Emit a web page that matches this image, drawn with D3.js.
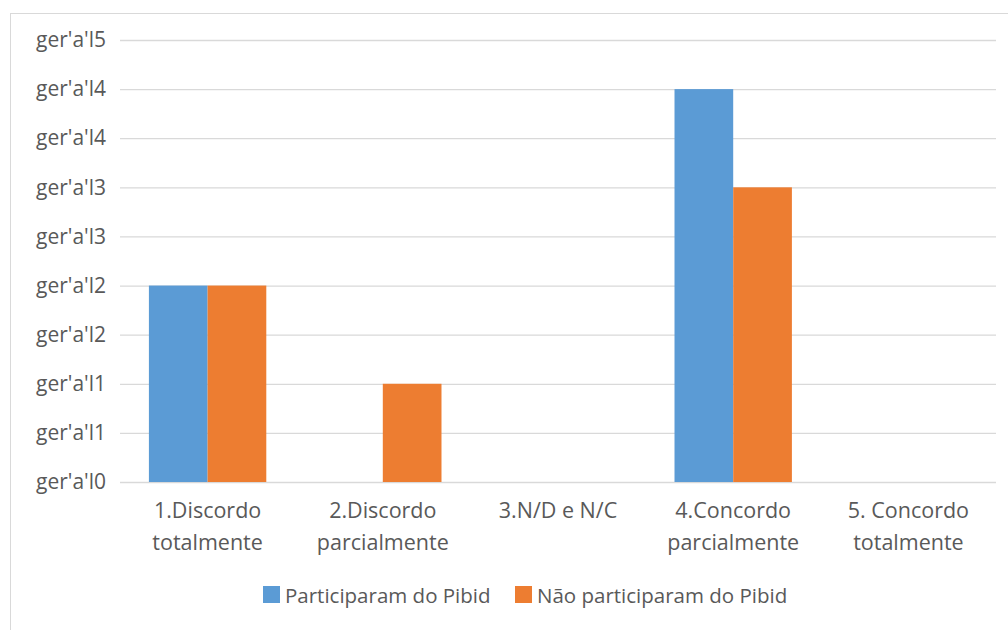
<!DOCTYPE html>
<html>
<head>
<meta charset="utf-8">
<script src="https://cdn.jsdelivr.net/npm/d3@7"></script>
<style>
  html, body { margin: 0; padding: 0; background: #fff; }
  svg { display: block; }
  svg text { font-family: "Open Sans", "Noto Sans", sans-serif; }
</style>
</head>
<body>
<svg id="chart" width="1008" height="630"></svg>
<script>
// Response categories (two-line labels)
const categories = [
  ["1.Discordo", "totalmente"],
  ["2.Discordo", "parcialmente"],
  ["3.N/D e N/C"],
  ["4.Concordo", "parcialmente"],
  ["5. Concordo", "totalmente"]
];
const seriesNames = ["Participaram do Pibid", "Não participaram do Pibid"];
const participaram = [2, 0, 0, 4, 0];
const naoParticiparam = [2, 1, 0, 3, 0];
const tickValues = [0, 0.5, 1, 1.5, 2, 2.5, 3, 3.5, 4, 4.5];
const tickLabels = ["ger'a'l0", "ger'a'l1", "ger'a'l1", "ger'a'l2", "ger'a'l2",
                    "ger'a'l3", "ger'a'l3", "ger'a'l4", "ger'a'l4", "ger'a'l5"];
const colors = ["#5B9BD5", "#ED7D31"];

const svg = d3.select("#chart");
const W = 1008, H = 630;
const margin = { left: 120, right: 12, top: 40, bottom: 148 };
const plotW = W - margin.left - margin.right;
const plotH = H - margin.top - margin.bottom;
const textColor = "#595959";

// chart frame
svg.append("rect")
  .attr("x", 10.5).attr("y", 13.5)
  .attr("width", W + 10).attr("height", H + 10)
  .attr("fill", "#fff").attr("stroke", "#D9D9D9");

const g = svg.append("g").attr("transform", `translate(${margin.left},${margin.top})`);

const x0 = d3.scaleBand().domain(d3.range(categories.length)).range([0, plotW]).paddingInner(0.33).paddingOuter(0.165);
const x1 = d3.scaleBand().domain([0, 1]).range([0, x0.bandwidth()]);
const y = d3.scaleLinear().domain([0, 4.5]).range([plotH, 0]);

// gridlines + y labels
const yAxis = d3.axisLeft(y).tickValues(tickValues)
  .tickSize(-plotW).tickPadding(14)
  .tickFormat((d, i) => tickLabels[i]);
const ya = g.append("g").call(yAxis).attr("font-family", null).attr("font-size", null);
ya.select(".domain").remove();
ya.selectAll(".tick line").attr("stroke", "#D9D9D9").attr("stroke-width", 1.3);
ya.selectAll(".tick text").attr("fill", textColor).style("font-size", "21px");

// bars
const data = categories.map((c, i) => [participaram[i], naoParticiparam[i]]);
const groups = g.selectAll(".cat").data(data).join("g")
  .attr("transform", (d, i) => `translate(${x0(i)},0)`);
groups.selectAll("rect").data(d => d).join("rect")
  .attr("x", (d, j) => x1(j))
  .attr("width", x1.bandwidth())
  .attr("y", d => y(d))
  .attr("height", d => plotH - y(d))
  .attr("fill", (d, j) => colors[j]);

// x-axis labels
const xa = g.append("g").attr("transform", `translate(0,${plotH})`);
categories.forEach((lines, i) => {
  const cx = x0(i) + x0.bandwidth() / 2;
  const t = xa.append("text")
    .attr("x", cx)
    .attr("y", 36)
    .attr("text-anchor", "middle")
    .attr("fill", textColor)
    .style("font-size", "21.5px");
  lines.forEach((ln, k) => {
    t.append("tspan").attr("x", cx).attr("dy", k === 0 ? 0 : 32).text(ln);
  });
});

// legend
const legend = svg.append("g");
const legItems = [{ x: 263, name: seriesNames[0], c: colors[0] }, { x: 515, name: seriesNames[1], c: colors[1] }];
legItems.forEach(it => {
  legend.append("rect").attr("x", it.x).attr("y", 586).attr("width", 17).attr("height", 17).attr("fill", it.c);
  legend.append("text").attr("x", it.x + 22).attr("y", 603)
    .attr("fill", textColor).style("font-size", "20.5px").text(it.name);
});
</script>
</body>
</html>
